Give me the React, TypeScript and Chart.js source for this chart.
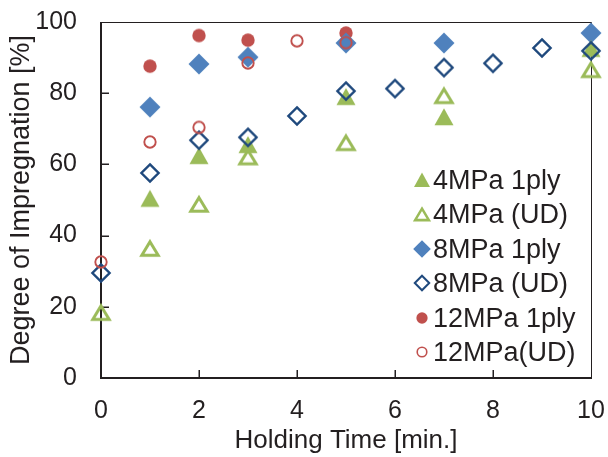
import React, { useEffect, useRef } from 'react';
import { Chart, registerables } from 'chart.js';

Chart.register(...registerables);

// ---- data ----
const seriesLabels = ['4MPa 1ply', '4MPa (UD)', '8MPa 1ply', '8MPa (UD)', '12MPa 1ply', '12MPa(UD)'];

const x4ply = [1, 2, 3, 5, 7, 10];
const y4ply = [50.4, 62.4, 65.5, 79, 73.3, 92.5];

const x4UD = [0, 1, 2, 3, 5, 7, 10];
const y4UD = [18.5, 36.5, 48.9, 62.2, 66.2, 79.4, 86.7];

const x8ply = [1, 2, 3, 5, 7, 10];
const y8ply = [76.1, 88.2, 90.1, 94.1, 94.1, 96.9];

const x8UD = [0, 1, 2, 3, 4, 5, 6, 7, 8, 9, 10];
const y8UD = [29.5, 57.6, 66.8, 67.6, 73.6, 80.6, 81.3, 87.2, 88.4, 92.7, 91.9];

const x12ply = [1, 2, 3, 5];
const y12ply = [87.6, 96.2, 94.9, 96.9];

const x12UD = [0, 1, 2, 3, 4, 5];
const y12UD = [32.6, 66.3, 70.4, 88.5, 94.7, 94.2];

const xTicks = [0, 2, 4, 6, 8, 10];
const yTicks = [0, 20, 40, 60, 80, 100];

// ---- styles ----
const FONT = "'Liberation Sans', Arial, Helvetica, sans-serif";
const TEXT = '#231F20';
const GREEN = '#9BBB59';
const BLUE = '#4F81BD';
const NAVY = '#1F497D';
const RED = '#C0504D';

type Kind = 'triFill' | 'triOpen' | 'diaFill' | 'diaOpen' | 'cirFill' | 'cirOpen';

function makeMarker(kind: Kind, scale = 1): HTMLCanvasElement {
  const S = 26;
  const c = document.createElement('canvas');
  c.width = S;
  c.height = S;
  const g = c.getContext('2d')!;
  const cx = S / 2;
  const cy = S / 2;
  g.translate(cx, cy);
  g.scale(scale, scale);
  g.lineJoin = 'miter';
  g.beginPath();
  switch (kind) {
    case 'triFill':
      g.moveTo(0, -8.8);
      g.lineTo(9.5, 8.2);
      g.lineTo(-9.5, 8.2);
      g.closePath();
      g.fillStyle = GREEN;
      g.fill();
      break;
    case 'triOpen':
      g.moveTo(0, -6.3);
      g.lineTo(8.2, 7.3);
      g.lineTo(-8.2, 7.3);
      g.closePath();
      g.strokeStyle = GREEN;
      g.lineWidth = 3;
      g.stroke();
      break;
    case 'diaFill':
      g.moveTo(0, -10.5);
      g.lineTo(10.5, 0);
      g.lineTo(0, 10.5);
      g.lineTo(-10.5, 0);
      g.closePath();
      g.fillStyle = BLUE;
      g.fill();
      break;
    case 'diaOpen':
      g.moveTo(0, -8.6);
      g.lineTo(8.6, 0);
      g.lineTo(0, 8.6);
      g.lineTo(-8.6, 0);
      g.closePath();
      g.strokeStyle = NAVY;
      g.lineWidth = 2.4;
      g.stroke();
      break;
    case 'cirFill':
      g.arc(0, 0, 6.7, 0, Math.PI * 2);
      g.fillStyle = RED;
      g.fill();
      break;
    case 'cirOpen':
      g.arc(0, 0, 5.7, 0, Math.PI * 2);
      g.strokeStyle = RED;
      g.lineWidth = 1.9;
      g.stroke();
      break;
  }
  return c;
}

const kinds: Kind[] = ['triFill', 'triOpen', 'diaFill', 'diaOpen', 'cirFill', 'cirOpen'];
const drawOrder = [3, 4, 5, 2, 6, 1];

function pts(xs: number[], ys: number[]) {
  return xs.map((x, i) => ({ x, y: ys[i] }));
}

export default function App() {
  const ref = useRef<HTMLCanvasElement | null>(null);

  useEffect(() => {
    document.body.style.margin = '0';
    const canvas = ref.current!;
    const markers = kinds.map((k) => makeMarker(k));
    const legendMarkers = kinds.map((k) => makeMarker(k, 0.84));
    const allData = [
      pts(x4ply, y4ply),
      pts(x4UD, y4UD),
      pts(x8ply, y8ply),
      pts(x8UD, y8UD),
      pts(x12ply, y12ply),
      pts(x12UD, y12UD),
    ];

    const framePlugin = {
      id: 'frame',
      beforeDatasetsDraw(chart: any) {
        const { ctx, chartArea } = chart;
        const { left, right, top, bottom } = chartArea;
        const xs = chart.scales.x;
        const ys = chart.scales.y;
        ctx.save();
        ctx.strokeStyle = TEXT;
        ctx.lineWidth = 1;
        ctx.beginPath();
        ctx.moveTo(left, top + 0.5);
        ctx.lineTo(right + 0.5, top + 0.5);
        ctx.lineTo(right + 0.5, bottom);
        ctx.stroke();
        ctx.lineWidth = 1.5;
        ctx.beginPath();
        xTicks.slice(1, -1).forEach((v) => {
          const px = Math.round(xs.getPixelForValue(v)) + 0.25;
          ctx.moveTo(px, bottom);
          ctx.lineTo(px, bottom - 8);
        });
        yTicks.slice(1, -1).forEach((v) => {
          const py = Math.round(ys.getPixelForValue(v)) + 0.25;
          ctx.moveTo(left, py);
          ctx.lineTo(left + 8, py);
        });
        ctx.stroke();
        ctx.lineWidth = 2;
        ctx.beginPath();
        ctx.moveTo(left, top);
        ctx.lineTo(left, bottom);
        ctx.lineTo(right + 1, bottom);
        ctx.stroke();
        ctx.restore();
      },
    };

    const legendPlugin = {
      id: 'customLegend',
      afterDatasetsDraw(chart: any) {
        const { ctx, chartArea } = chart;
        ctx.save();
        ctx.font = `27px ${FONT}`;
        ctx.fillStyle = TEXT;
        ctx.textBaseline = 'middle';
        ctx.textAlign = 'left';
        seriesLabels.forEach((label, i) => {
          const x = chartArea.left + 320.5;
          const y = chartArea.top + 158 + i * 34.4;
          const img = legendMarkers[i];
          ctx.drawImage(img, Math.round(x - img.width / 2), Math.round(y - img.height / 2));
          ctx.fillText(label, x + 11.5, y + 1.5);
        });
        ctx.restore();
      },
    };

    const chart = new Chart(canvas, {
      type: 'scatter',
      data: {
        datasets: seriesLabels.map((label, i) => ({
          label,
          data: allData[i],
          pointStyle: markers[i] as any,
          pointRadius: 10,
          pointHoverRadius: 10,
          showLine: false,
          clip: false as any,
          order: drawOrder[i],
        })),
      },
      options: {
        animation: false,
        responsive: false,
        devicePixelRatio: 1,
        events: [],
        layout: { padding: { top: 22, right: 17, left: 0, bottom: 0 } },
        plugins: {
          legend: { display: false },
          tooltip: { enabled: false },
        },
        scales: {
          x: {
            type: 'linear',
            min: 0,
            max: 10,
            afterBuildTicks: (s: any) => {
              s.ticks = xTicks.map((v) => ({ value: v }));
            },
            afterFit: (s: any) => {
              s.height = 79;
              s.paddingLeft = 0;
              s.paddingRight = 0;
            },
            grid: { display: false, drawTicks: false },
            border: { display: false },
            ticks: {
              color: TEXT,
              font: { family: FONT, size: 25 },
              padding: 18,
              maxRotation: 0,
            },
            title: {
              display: true,
              text: 'Holding Time [min.]',
              color: TEXT,
              font: { family: FONT, size: 26, lineHeight: 1 },
              padding: { top: 0, bottom: 3 },
            },
          },
          y: {
            type: 'linear',
            min: 0,
            max: 100,
            afterBuildTicks: (s: any) => {
              s.ticks = yTicks.map((v) => ({ value: v }));
            },
            afterFit: (s: any) => {
              s.width = 101;
              s.paddingTop = 0;
              s.paddingBottom = 0;
            },
            grid: { display: false, drawTicks: false },
            border: { display: false },
            ticks: {
              color: TEXT,
              font: { family: FONT, size: 25 },
              padding: 24,
            },
            title: {
              display: true,
              text: 'Degree of Impregnation [%]',
              color: TEXT,
              font: { family: FONT, size: 27 },
              padding: { top: 5, bottom: 0 },
            },
          },
        },
      },
      plugins: [framePlugin, legendPlugin],
    });

    return () => {
      chart.destroy();
    };
  }, []);

  return (
    <div style={{ width: 608, height: 457, background: '#fff' }}>
      <canvas ref={ref} width={608} height={457} style={{ display: 'block', width: 608, height: 457 }} />
    </div>
  );
}
